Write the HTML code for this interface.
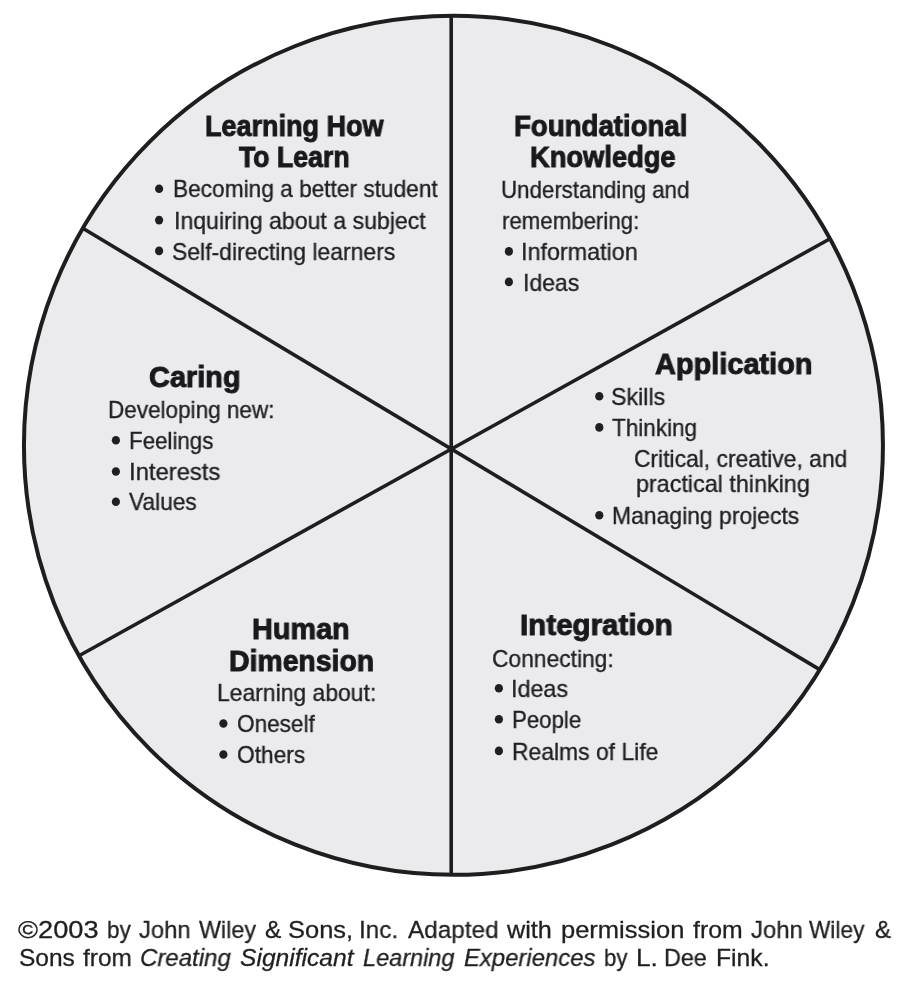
<!DOCTYPE html>
<html>
<head>
<meta charset="utf-8">
<style>
html, body { margin: 0; padding: 0; background: #ffffff; }
body { width: 908px; height: 983px; position: relative; overflow: hidden; font-family: "Liberation Sans", sans-serif; color: #1f1f21; }
svg.dia { position: absolute; left: 0; top: 0; }
.t, .h, .f { position: absolute; white-space: nowrap; transform-origin: 0 0; will-change: transform; }
.t { font-size: 24px; line-height: 24px; font-weight: normal; -webkit-text-stroke: 0.35px #1f1f21; }
.h { font-size: 30px; line-height: 30px; font-weight: bold; color: #19191b; -webkit-text-stroke: 1.0px #19191b; }
.f { font-size: 24.5px; line-height: 24.5px; -webkit-text-stroke: 0.3px #1f1f21; }
.i { font-style: italic; }
</style>
</head>
<body>
<svg class="dia" width="908" height="983" viewBox="0 0 908 983">
<circle cx="453.45" cy="445.35" r="429.5" fill="#ebebed" stroke="#1e1e20" stroke-width="4"/>
<g stroke="#1e1e20" stroke-width="3.6" stroke-linecap="butt">
<line x1="451.2" y1="15.9" x2="451.2" y2="874.8"/>
<line x1="82.81" y1="228.33" x2="819.75" y2="669.61"/>
<line x1="830.01" y1="238.77" x2="79.00" y2="655.73"/>
</g>
<g fill="#1f1f21">
<ellipse cx="159.1" cy="188.7" rx="4.1" ry="4.3"/>
<ellipse cx="159.1" cy="220.1" rx="4.1" ry="4.3"/>
<ellipse cx="159.1" cy="250.9" rx="4.1" ry="4.3"/>
<ellipse cx="508.9" cy="251.4" rx="4.1" ry="4.3"/>
<ellipse cx="508.9" cy="281.9" rx="4.1" ry="4.3"/>
<ellipse cx="599.3" cy="396.2" rx="4.1" ry="4.3"/>
<ellipse cx="599.3" cy="427.4" rx="4.1" ry="4.3"/>
<ellipse cx="599.3" cy="515.2" rx="4.1" ry="4.3"/>
<ellipse cx="498.9" cy="688.3" rx="4.1" ry="4.3"/>
<ellipse cx="498.9" cy="719.2" rx="4.1" ry="4.3"/>
<ellipse cx="498.9" cy="750.9" rx="4.1" ry="4.3"/>
<ellipse cx="223.4" cy="723.5" rx="4.1" ry="4.3"/>
<ellipse cx="223.4" cy="754.5" rx="4.1" ry="4.3"/>
<ellipse cx="115.9" cy="440.2" rx="4.1" ry="4.3"/>
<ellipse cx="115.9" cy="471.5" rx="4.1" ry="4.3"/>
<ellipse cx="115.9" cy="501.7" rx="4.1" ry="4.3"/>
</g>
</svg>
<div class="h" style="left:204.97px;top:111.20px;transform:scaleX(0.9003)">Learning How</div>
<div class="h" style="left:239.08px;top:141.90px;transform:scaleX(0.8888)">To Learn</div>
<div class="t" style="left:172.83px;top:177.30px;transform:scaleX(0.9447)">Becoming a better student</div>
<div class="t" style="left:173.51px;top:208.70px;transform:scaleX(0.9627)">Inquiring about a subject</div>
<div class="t" style="left:172.43px;top:239.50px;transform:scaleX(0.9564)">Self-directing learners</div>
<div class="h" style="left:513.97px;top:111.00px;transform:scaleX(0.9206)">Foundational</div>
<div class="h" style="left:529.95px;top:142.00px;transform:scaleX(0.9098)">Knowledge</div>
<div class="t" style="left:500.80px;top:178.30px;transform:scaleX(0.9291)">Understanding and</div>
<div class="t" style="left:501.72px;top:208.90px;transform:scaleX(0.9270)">remembering:</div>
<div class="t" style="left:521.49px;top:240.00px;transform:scaleX(0.9724)">Information</div>
<div class="t" style="left:522.73px;top:270.50px;transform:scaleX(0.9580)">Ideas</div>
<div class="h" style="left:654.65px;top:349.00px;transform:scaleX(0.9641)">Application</div>
<div class="t" style="left:611.28px;top:384.80px;transform:scaleX(0.9673)">Skills</div>
<div class="t" style="left:611.93px;top:416.00px;transform:scaleX(0.9384)">Thinking</div>
<div class="t" style="left:634.19px;top:446.90px;transform:scaleX(0.9516)">Critical, creative, and</div>
<div class="t" style="left:635.73px;top:472.30px;transform:scaleX(0.9722)">practical thinking</div>
<div class="t" style="left:611.81px;top:503.80px;transform:scaleX(0.9549)">Managing projects</div>
<div class="h" style="left:519.84px;top:610.00px;transform:scaleX(0.9845)">Integration</div>
<div class="t" style="left:492.17px;top:646.80px;transform:scaleX(0.9499)">Connecting:</div>
<div class="t" style="left:511.48px;top:676.90px;transform:scaleX(0.9723)">Ideas</div>
<div class="t" style="left:511.83px;top:707.80px;transform:scaleX(0.9257)">People</div>
<div class="t" style="left:511.81px;top:739.50px;transform:scaleX(0.9542)">Realms of Life</div>
<div class="h" style="left:251.94px;top:614.10px;transform:scaleX(0.9613)">Human</div>
<div class="h" style="left:228.52px;top:645.80px;transform:scaleX(0.9464)">Dimension</div>
<div class="t" style="left:216.80px;top:681.20px;transform:scaleX(0.9546)">Learning about:</div>
<div class="t" style="left:236.50px;top:712.10px;transform:scaleX(0.9407)">Oneself</div>
<div class="t" style="left:236.50px;top:743.10px;transform:scaleX(0.9468)">Others</div>
<div class="h" style="left:148.98px;top:362.10px;transform:scaleX(0.9637)">Caring</div>
<div class="t" style="left:107.86px;top:397.90px;transform:scaleX(0.9380)">Developing new:</div>
<div class="t" style="left:128.82px;top:428.80px;transform:scaleX(0.9303)">Feelings</div>
<div class="t" style="left:129.37px;top:460.10px;transform:scaleX(0.9928)">Interests</div>
<div class="t" style="left:129.32px;top:490.30px;transform:scaleX(0.9462)">Values</div>
<div class="f" style="left:17.96px;top:918.10px;transform:scaleX(1.1101)">©2003</div>
<div class="f" style="left:106.70px;top:918.10px;transform:scaleX(0.9153)">by</div>
<div class="f" style="left:138.70px;top:918.10px;transform:scaleX(0.9700)">John</div>
<div class="f" style="left:199.33px;top:918.10px;transform:scaleX(0.9512)">Wiley</div>
<div class="f" style="left:265.16px;top:918.10px;transform:scaleX(0.9970)">&amp;</div>
<div class="f" style="left:287.62px;top:918.10px;transform:scaleX(1.0392)">Sons,</div>
<div class="f" style="left:359.11px;top:918.10px;transform:scaleX(0.9890)">Inc.</div>
<div class="f" style="left:408.46px;top:918.10px;transform:scaleX(0.9925)">Adapted</div>
<div class="f" style="left:507.11px;top:918.10px;transform:scaleX(1.0298)">with</div>
<div class="f" style="left:560.66px;top:918.10px;transform:scaleX(1.0412)">permission</div>
<div class="f" style="left:692.88px;top:918.10px;transform:scaleX(1.0121)">from</div>
<div class="f" style="left:750.69px;top:918.10px;transform:scaleX(0.9743)">John</div>
<div class="f" style="left:809.33px;top:918.10px;transform:scaleX(0.9242)">Wiley</div>
<div class="f" style="left:875.16px;top:918.10px;transform:scaleX(0.9828)">&amp;</div>
<div class="f" style="left:18.91px;top:946.20px;transform:scaleX(1.0002)">Sons</div>
<div class="f" style="left:82.89px;top:946.20px;transform:scaleX(0.9964)">from</div>
<div class="f i" style="left:140.13px;top:946.20px;transform:scaleX(0.9808)">Creating</div>
<div class="f i" style="left:240.17px;top:946.20px;transform:scaleX(1.0050)">Significant</div>
<div class="f i" style="left:363.28px;top:946.20px;transform:scaleX(0.9592)">Learning</div>
<div class="f i" style="left:464.29px;top:946.20px;transform:scaleX(0.9747)">Experiences</div>
<div class="f" style="left:603.72px;top:946.20px;transform:scaleX(0.9029)">by</div>
<div class="f" style="left:635.80px;top:946.20px;transform:scaleX(1.0703)">L.</div>
<div class="f" style="left:664.01px;top:946.20px;transform:scaleX(0.9513)">Dee</div>
<div class="f" style="left:715.53px;top:946.20px;transform:scaleX(1.0076)">Fink.</div>
</body>
</html>
